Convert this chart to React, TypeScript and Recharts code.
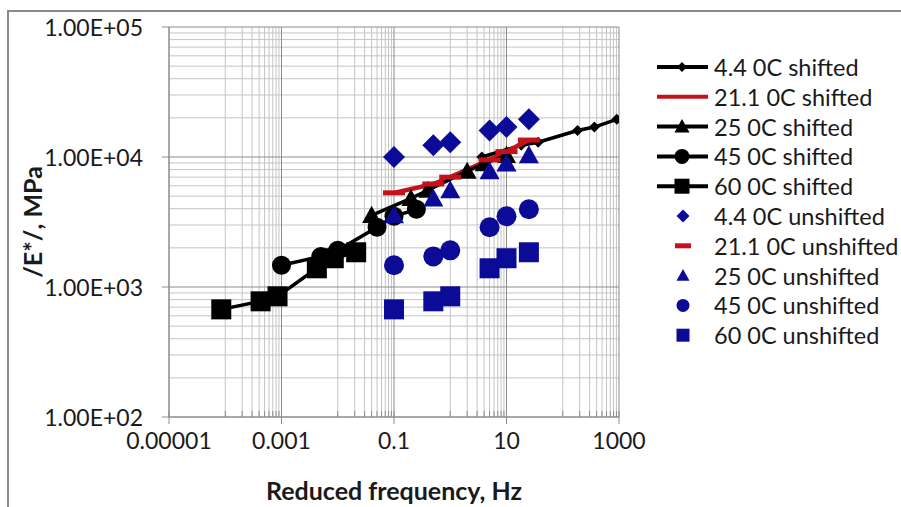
import React from "react";
import { ComposedChart, Scatter, XAxis, YAxis, CartesianGrid, Legend } from "recharts";

// test frequencies (Hz) of the unshifted data and the reduced frequencies after shifting
const unshiftedFreq = [0.1, 0.5, 1, 5, 10, 25];
const freq44Shifted = [3.65, 18.3, 36.5, 183, 365, 913];
const freq211Shifted = [0.1, 0.5, 1, 5, 10, 25];
const freq25Shifted = [0.04, 0.2, 0.4, 2, 4, 10];
const freq45Shifted = [0.001, 0.005, 0.01, 0.05, 0.1, 0.25];
const freq60Shifted = [0.000085, 0.000425, 0.00085, 0.00425, 0.0085, 0.02125];

// |E*| in MPa
const modulus44 = [10000, 12300, 13000, 16000, 17000, 19500];
const modulus211 = [5300, 6200, 7000, 9500, 11000, 13500];
const modulus25 = [3560, 4800, 5550, 7770, 8900, 10300];
const modulus45 = [1470, 1720, 1915, 2880, 3500, 3960];
const modulus60 = [673, 776, 848, 1393, 1664, 1850];

const xMajorTicks = [0.00001, 0.001, 0.1, 10, 1000];
const xTickLabels = ["0.00001", "0.001", "0.1", "10", "1000"];
const yMajorTicks = [100, 1000, 10000, 100000];
const yTickLabels = ["1.00E+02", "1.00E+03", "1.00E+04", "1.00E+05"];

// excel draws minor lines only in the second decade of each major step (major unit = 100)
const xMinorTicks: number[] = [];
xMajorTicks.slice(0, -1).forEach((m) => {
  for (let k = 1; k <= 9; k++) xMinorTicks.push(m * 10 * k);
});
const yMinorTicks: number[] = [];
yMajorTicks.slice(0, -1).forEach((m) => {
  for (let k = 2; k <= 9; k++) yMinorTicks.push(m * k);
});

const toPoints = (fs: number[], es: number[]) => fs.map((f, i) => ({ f, e: es[i] }));

const BLACK = "#000000";
const RED = "#c4121a";
const BLUE = "#0b0b98";
const FONT = "Lato, 'Liberation Sans', sans-serif";

type Kind = "diamond" | "triangle" | "circle" | "square" | "dash" | "none";

const series = [
  { name: "4.4 0C shifted", data: toPoints(freq44Shifted, modulus44), color: BLACK, kind: "diamond", size: 11, line: true },
  { name: "21.1 0C shifted", data: toPoints(freq211Shifted, modulus211), color: RED, kind: "none", size: 0, line: true },
  { name: "25 0C shifted", data: toPoints(freq25Shifted, modulus25), color: BLACK, kind: "triangle", size: 19, line: true },
  { name: "45 0C shifted", data: toPoints(freq45Shifted, modulus45), color: BLACK, kind: "circle", size: 19, line: true },
  { name: "60 0C shifted", data: toPoints(freq60Shifted, modulus60), color: BLACK, kind: "square", size: 20, line: true },
  { name: "4.4 0C unshifted", data: toPoints(unshiftedFreq, modulus44), color: BLUE, kind: "diamond", size: 22, line: false },
  { name: "21.1 0C unshifted", data: toPoints(unshiftedFreq, modulus211), color: RED, kind: "dash", size: 22, line: false },
  { name: "25 0C unshifted", data: toPoints(unshiftedFreq, modulus25), color: BLUE, kind: "triangle", size: 20, line: false },
  { name: "45 0C unshifted", data: toPoints(unshiftedFreq, modulus45), color: BLUE, kind: "circle", size: 20, line: false },
  { name: "60 0C unshifted", data: toPoints(unshiftedFreq, modulus60), color: BLUE, kind: "square", size: 20, line: false },
];

function Marker({ kind, cx, cy, size, fill }: { kind: Kind; cx: number; cy: number; size: number; fill: string }) {
  const h = size / 2;
  if (cx == null || cy == null) return null;
  switch (kind) {
    case "diamond":
      return <polygon points={`${cx},${cy - h} ${cx + h},${cy} ${cx},${cy + h} ${cx - h},${cy}`} fill={fill} />;
    case "triangle":
      return <polygon points={`${cx},${cy - h} ${cx + h},${cy + h * 0.8} ${cx - h},${cy + h * 0.8}`} fill={fill} />;
    case "circle":
      return <circle cx={cx} cy={cy} r={h} fill={fill} />;
    case "square":
      return <rect x={cx - h} y={cy - h} width={size} height={size} fill={fill} />;
    case "dash":
      return <rect x={cx - h} y={cy - 2.5} width={size} height={5} fill={fill} />;
    default:
      return <g />;
  }
}

const XTick = (props: any) => {
  const { x, y, payload } = props;
  const idx = xMajorTicks.indexOf(payload.value);
  if (idx < 0) {
    return <line x1={x} x2={x} y1={y - 6} y2={y} stroke="#8c8c8c" />;
  }
  return (
    <g>
      <line x1={x} x2={x} y1={y - 6} y2={y + 7} stroke="#8c8c8c" />
      <text x={x} y={y + 32} textAnchor="middle" fontSize={23} fontFamily={FONT} fill="#1a1a1a">
        {xTickLabels[idx]}
      </text>
    </g>
  );
};

const YTick = (props: any) => {
  const { x, y, payload } = props;
  const idx = yMajorTicks.indexOf(payload.value);
  return (
    <g>
      <line x1={x - 7} x2={x} y1={y} y2={y} stroke="#8c8c8c" />
      <text x={x - 26} y={y} textAnchor="end" dominantBaseline="central" fontSize={23} fontFamily={FONT} fill="#1a1a1a">
        {yTickLabels[idx]}
      </text>
    </g>
  );
};

const LegendBox = () => (
  <svg width={250} height={300}>
    {series.map((s, i) => {
      const cy = 17 + i * 29.8;
      return (
        <g key={s.name}>
          {s.line && <line x1={7} x2={58} y1={cy} y2={cy} stroke={s.color} strokeWidth={4} />}
          {s.kind !== "none" && (
            <Marker
              kind={s.kind as Kind}
              cx={s.line ? 32 : 33}
              cy={cy}
              size={s.line ? (s.kind === "diamond" ? 10 : 15) : s.kind === "dash" ? 16 : 13}
              fill={s.color}
            />
          )}
          <text x={64} y={cy} dominantBaseline="central" fontSize={23.5} fontFamily={FONT} fill="#1a1a1a">
            {s.name}
          </text>
        </g>
      );
    })}
  </svg>
);

export default function App() {
  return (
    <div style={{ position: "absolute", left: 0, top: 0, width: 901, height: 507, background: "#fff" }}>
      <div
        style={{
          position: "absolute",
          left: 7,
          top: 10,
          width: 900,
          height: 500,
          borderLeft: "2px solid #8a8a8a",
          borderTop: "2px solid #8a8a8a",
        }}
      />
      <ComposedChart width={901} height={507} margin={{ top: 27, right: 282, bottom: 0, left: 0 }} style={{ position: "absolute", left: 0, top: 0 }}>
        <CartesianGrid horizontal vertical horizontalValues={yMinorTicks} verticalValues={xMinorTicks} stroke="#c4c4c4" />
        <CartesianGrid horizontal vertical horizontalValues={yMajorTicks} verticalValues={xMajorTicks} stroke="#8c8c8c" />
        <XAxis
          type="number"
          dataKey="f"
          scale="log"
          domain={[0.00001, 1000]}
          allowDataOverflow
          ticks={[...xMajorTicks, ...xMinorTicks]}
          interval={0}
          tickSize={0}
          tickMargin={0}
          tickLine={false}
          tick={<XTick />}
          height={90}
          axisLine={{ stroke: "#8c8c8c" }}
          label={{
            content: (p: any) => {
              const vb = p.viewBox;
              return (
                <text x={vb.x + vb.width / 2} y={vb.y + 73} textAnchor="middle" dominantBaseline="central" fontSize={25} fontWeight="bold" fontFamily={FONT} fill="#1a1a1a">
                  Reduced frequency, Hz
                </text>
              );
            },
          }}
        />
        <YAxis
          type="number"
          dataKey="e"
          scale="log"
          domain={[100, 100000]}
          allowDataOverflow
          ticks={yMajorTicks}
          interval={0}
          tickSize={0}
          tickMargin={0}
          tickLine={false}
          tick={<YTick />}
          width={169}
          axisLine={{ stroke: "#8c8c8c" }}
          label={{
            content: (p: any) => {
              const vb = p.viewBox;
              const cx = vb.x + 32;
              const cy = vb.y + vb.height / 2;
              return (
                <text x={cx} y={cy} transform={`rotate(-90 ${cx} ${cy})`} textAnchor="middle" dominantBaseline="central" fontSize={25} fontWeight="bold" fontFamily={FONT} fill="#1a1a1a">
                  /E*/, MPa
                </text>
              );
            },
          }}
        />
        {series.map((s) => (
          <Scatter
            key={s.name}
            name={s.name}
            data={s.data}
            isAnimationActive={false}
            line={s.line ? { stroke: s.color, strokeWidth: s.color === RED ? 4.5 : 3.5 } : false}
            lineJointType="linear"
            shape={(p: any) => <Marker kind={s.kind as Kind} cx={p.cx} cy={p.cy} size={s.size} fill={s.color} />}
          />
        ))}
        <Legend
          layout="vertical"
          align="center"
          verticalAlign="middle"
          content={() => <LegendBox />}
          wrapperStyle={{ left: 650, top: 50, width: 250, height: 300 }}
        />
      </ComposedChart>
    </div>
  );
}
